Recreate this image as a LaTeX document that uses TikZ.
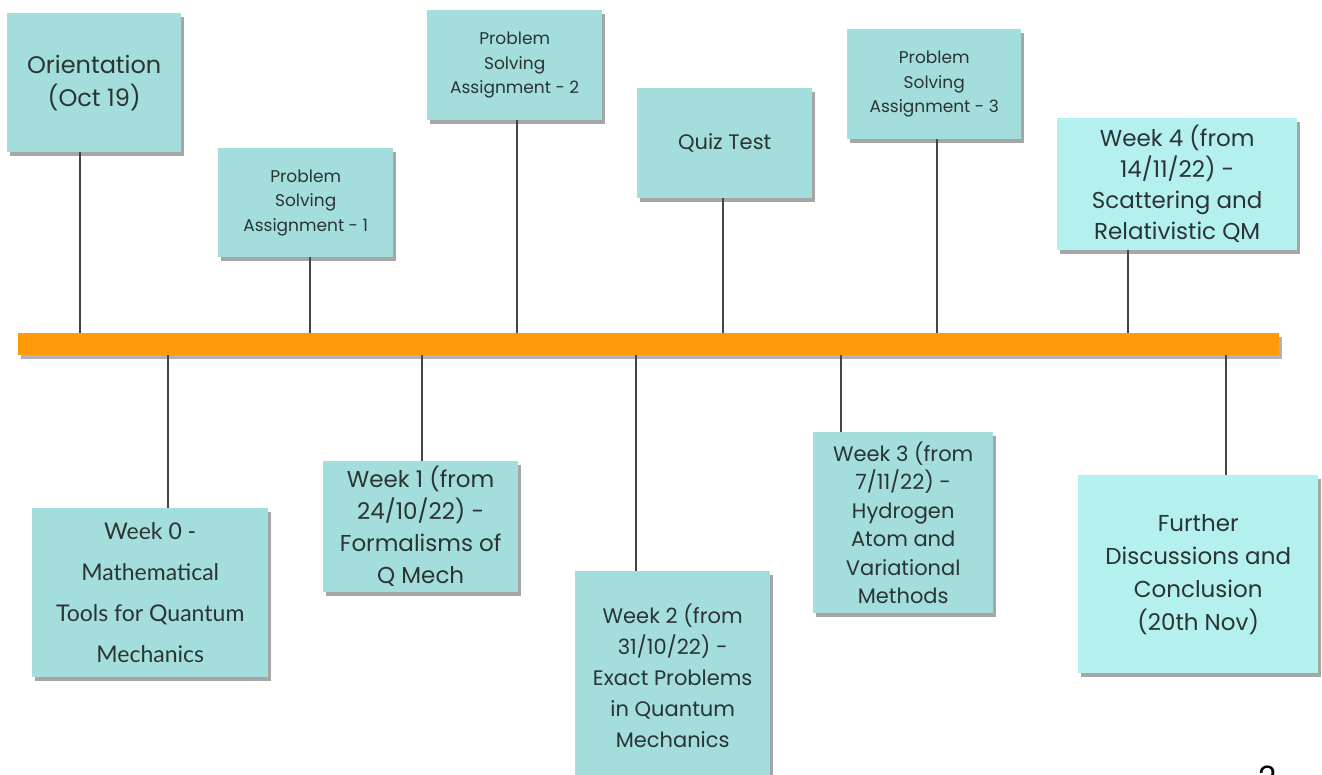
\documentclass[tikz,border=0pt]{standalone}
\usepackage{fontspec}
\setmainfont{Poppins}
\newfontfamily\zerofont{Lato}
\usetikzlibrary{shadows,calc}
\definecolor{boxc}{HTML}{A3DEDC}
\definecolor{boxl}{HTML}{B3F0EE}
\definecolor{txt}{HTML}{2A3434}
\definecolor{barc}{HTML}{FF9A0A}
\definecolor{linec}{HTML}{454545}
\tikzset{
  card/.style={rectangle, fill=boxc, draw=none, text=txt, align=center,
    inner sep=0pt, anchor=north west,
    drop shadow={shadow xshift=2.5pt, shadow yshift=-3.5pt, fill=black, opacity=0.35}},
  lightcard/.style={card, fill=boxl},
  conn/.style={draw=linec, line width=2.6pt},
  big/.style={font=\fontsize{23}{32}\selectfont},
  small/.style={font=\fontsize{17}{24.5}\selectfont},
}
\begin{document}
\begin{tikzpicture}[x=1pt,y=-1pt]
\useasboundingbox (0,0) rectangle (1322,774);
\fill[white] (0,0) rectangle (1322,774);

% top cards
\node[card, minimum width=174, minimum height=139, font=\fontsize{24}{33}\selectfont] (o1) at (7,13) {Orientation\\(Oct 19)};
\node[card, minimum width=175, minimum height=109, small] (o2) at (218,148) {Problem\\Solving\\Assignment - 1};
\node[card, minimum width=175, minimum height=110, small] (o3) at (427,10) {Problem\\Solving\\Assignment - 2};
\node[card, minimum width=175, minimum height=110, font=\fontsize{21}{28}\selectfont] (o4) at (637,88) {Quiz Test};
\node[card, minimum width=174, minimum height=110, small] (o5) at (847,29) {Problem\\Solving\\Assignment - 3};
\node[lightcard, minimum width=240, minimum height=132, font=\fontsize{23}{31}\selectfont] (o6) at (1057,118) {Week 4 (from\\14/11/22) -\\Scattering and\\Relativistic QM};

% bottom cards
\node[card, minimum width=236, minimum height=169, font=\zerofont\fontsize{23}{41}\selectfont] (u1) at (32,508) {Week 0 -\\Mathematical\\Tools for Quantum\\Mechanics};
\node[card, minimum width=195, minimum height=131, big] (u2) at (323,461) {Week 1 (from\\24/10/22) -\\Formalisms of\\Q Mech};
\node[card, minimum width=195, minimum height=210, font=\fontsize{21}{31}\selectfont] (u3) at (575,571) {Week 2 (from\\31/10/22) -\\Exact Problems\\in Quantum\\Mechanics};
\node[card, minimum width=180, minimum height=181, font=\fontsize{21}{28.5}\selectfont] (u4) at (813,432) {Week 3 (from\\7/11/22) -\\Hydrogen\\Atom and\\Variational\\Methods};
\node[lightcard, minimum width=240, minimum height=198, font=\fontsize{23}{33}\selectfont] (u5) at (1078,475) {Further\\Discussions and\\Conclusion\\(20th Nov)};

% bar
\node[rectangle, fill=barc, inner sep=0pt, anchor=north west, minimum width=1261, minimum height=22,
  drop shadow={shadow xshift=2.5pt, shadow yshift=-3.5pt, fill=black, opacity=0.3}] (bar) at (18,333) {};

% connector feet on the bar
\coordinate (t1) at (80,333);
\coordinate (t2) at (310,333);
\coordinate (t3) at (517,333);
\coordinate (t4) at (723,333);
\coordinate (t5) at (937,333);
\coordinate (t6) at (1128,333);
\coordinate (b1) at (168,355);
\coordinate (b2) at (422,355);
\coordinate (b3) at (636,355);
\coordinate (b4) at (841,355);
\coordinate (b5) at (1226,355);

\foreach \i in {1,...,6} { \draw[conn] (o\i.south -| t\i) -- (t\i); }
\foreach \i in {1,...,5} { \draw[conn] (b\i) -- (u\i.north -| b\i); }

% page number, cut by the lower edge as in the reference
\node[anchor=north, inner sep=0pt, text=black, font=\fontsize{32}{36}\selectfont] (pg) at (1268,766) {2};
\end{tikzpicture}
\end{document}
